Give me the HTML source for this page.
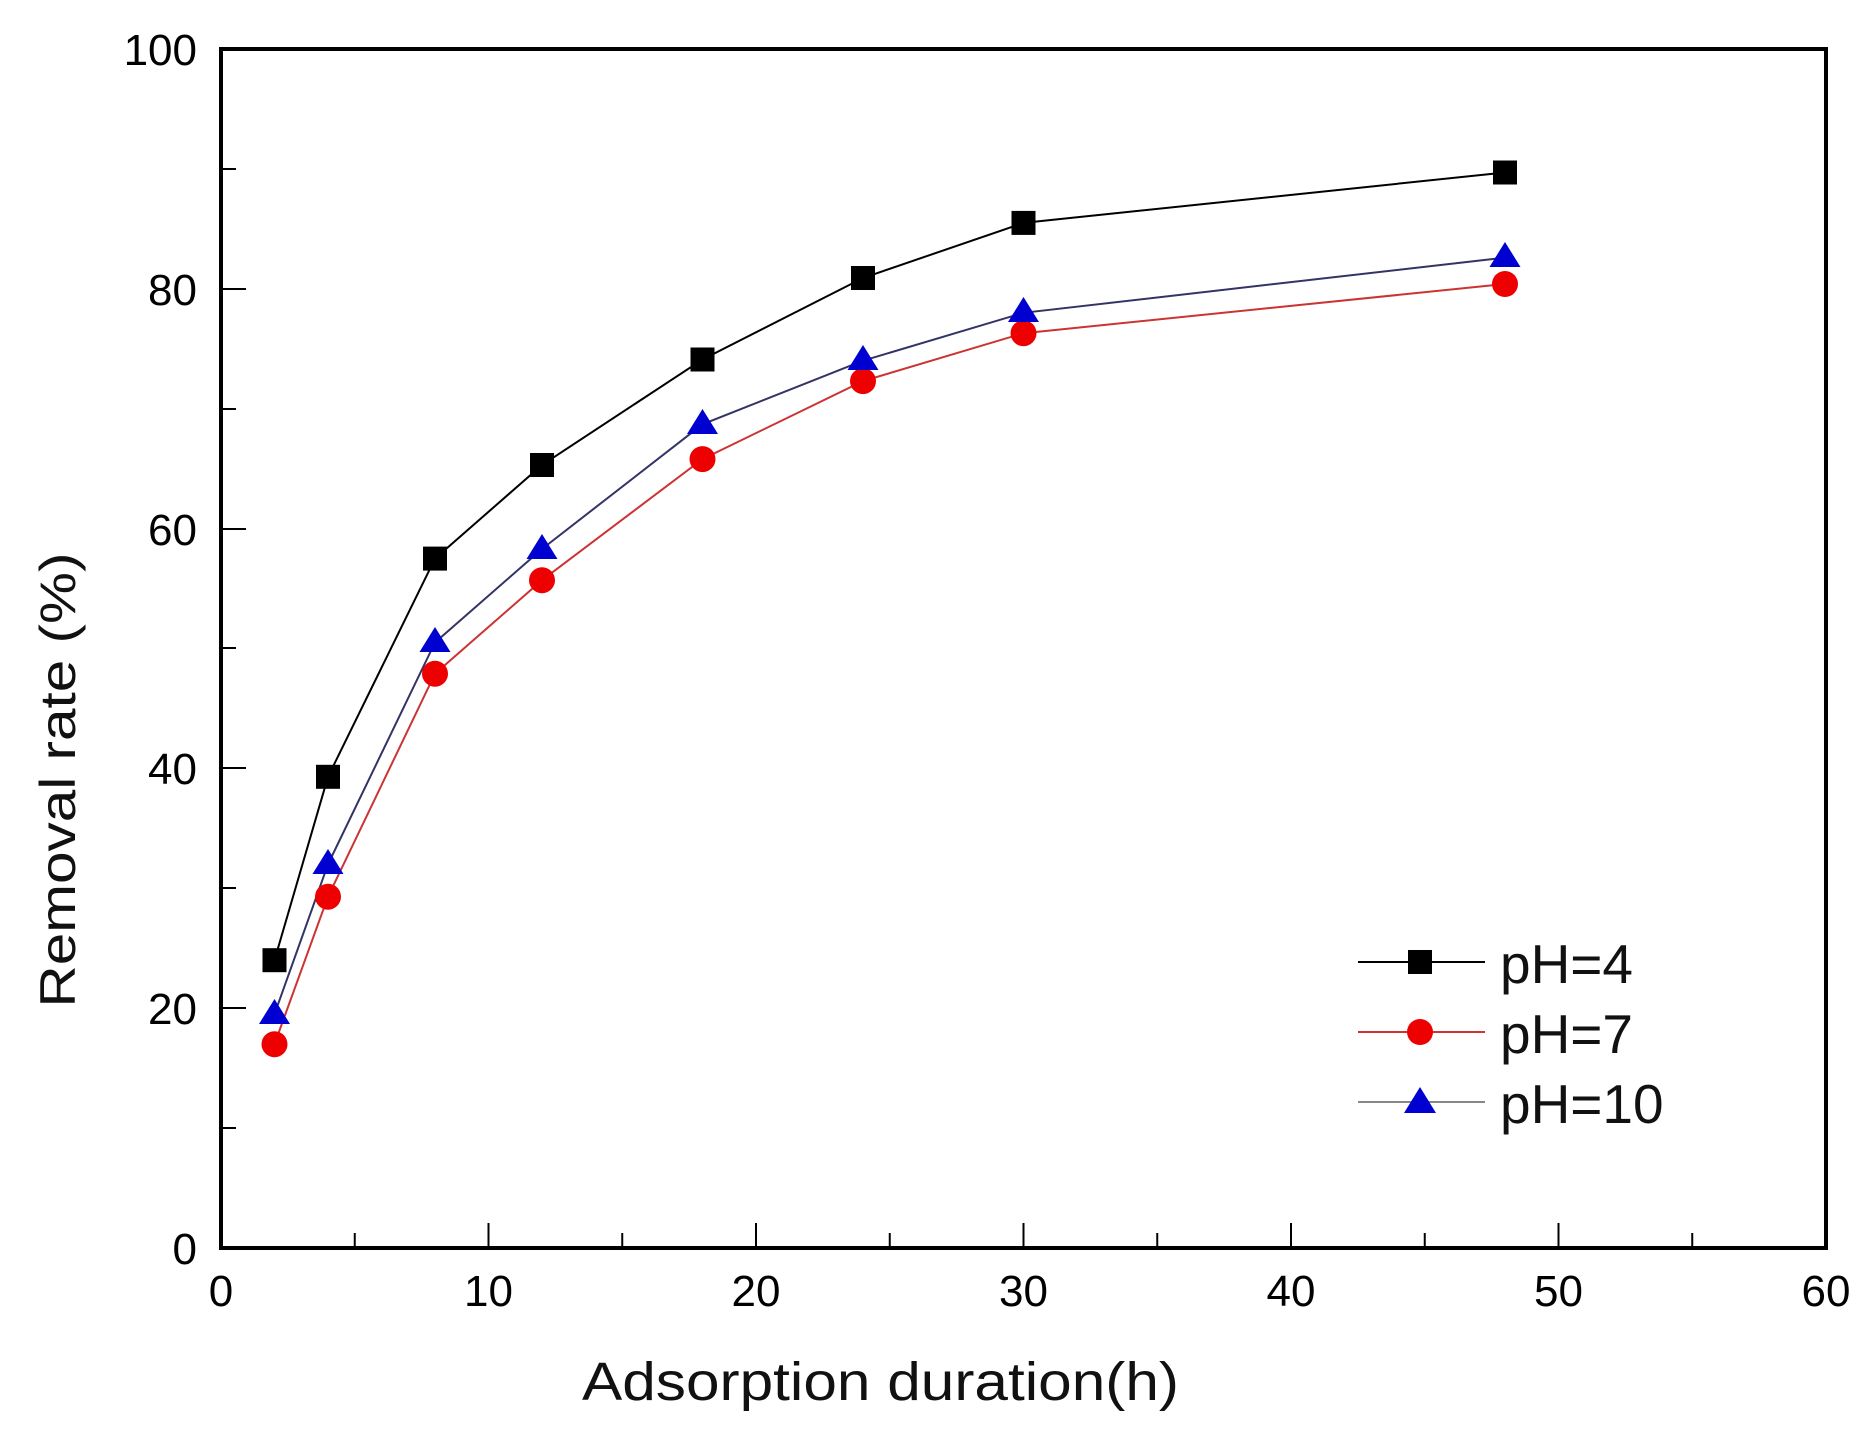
<!DOCTYPE html>
<html><head><style>html,body{margin:0;padding:0;background:#fff}svg{display:block}</style></head>
<body>
<svg width="1868" height="1435" viewBox="0 0 1868 1435" xmlns="http://www.w3.org/2000/svg" font-family="Liberation Sans, sans-serif">
<rect width="1868" height="1435" fill="#fff"/>
<g stroke="#000" stroke-width="2">
<line x1="221" y1="1248" x2="221" y2="1223"/><line x1="354.75" y1="1248" x2="354.75" y2="1233"/>
<line x1="488.5" y1="1248" x2="488.5" y2="1223"/><line x1="622.25" y1="1248" x2="622.25" y2="1233"/>
<line x1="756" y1="1248" x2="756" y2="1223"/><line x1="889.75" y1="1248" x2="889.75" y2="1233"/>
<line x1="1023.5" y1="1248" x2="1023.5" y2="1223"/><line x1="1157.25" y1="1248" x2="1157.25" y2="1233"/>
<line x1="1291" y1="1248" x2="1291" y2="1223"/><line x1="1424.75" y1="1248" x2="1424.75" y2="1233"/>
<line x1="1558.5" y1="1248" x2="1558.5" y2="1223"/><line x1="1692.25" y1="1248" x2="1692.25" y2="1233"/>
<line x1="221" y1="1008" x2="246" y2="1008"/><line x1="221" y1="1128" x2="236" y2="1128"/>
<line x1="221" y1="768" x2="246" y2="768"/><line x1="221" y1="888" x2="236" y2="888"/>
<line x1="221" y1="529" x2="246" y2="529"/><line x1="221" y1="648" x2="236" y2="648"/>
<line x1="221" y1="289" x2="246" y2="289"/><line x1="221" y1="409" x2="236" y2="409"/>
<line x1="221" y1="169" x2="236" y2="169"/>
</g>
<rect x="221" y="49" width="1605" height="1199" fill="none" stroke="#000" stroke-width="4"/>
<g font-size="44" fill="#000" text-anchor="end">
<text x="197" y="1264">0</text><text x="197" y="1024">20</text><text x="197" y="784">40</text>
<text x="197" y="545">60</text><text x="197" y="305">80</text><text x="197" y="65">100</text>
</g>
<g font-size="44" fill="#000" text-anchor="middle">
<text x="221" y="1306">0</text><text x="488.5" y="1306">10</text><text x="756" y="1306">20</text>
<text x="1023.5" y="1306">30</text><text x="1291" y="1306">40</text><text x="1558.5" y="1306">50</text><text x="1826" y="1306">60</text>
</g>
<text x="582" y="1400" font-size="54" fill="#111" textLength="597" lengthAdjust="spacingAndGlyphs">Adsorption duration(h)</text>
<text transform="translate(75,780) rotate(-90)" font-size="50" fill="#111" text-anchor="middle" textLength="455" lengthAdjust="spacingAndGlyphs">Removal rate (%)</text>
<polyline fill="none" stroke="#000" stroke-width="2" points="274.5,960.2 328,776.8 435,558.6 542,465 702.5,359.5 863,278 1023.5,222.9 1505,172.5"/>
<polyline fill="none" stroke="#c33" stroke-width="2" points="274.5,1044.2 328,896.7 435,673.7 542,580.2 702.5,459.1 863,381.1 1023.5,333.2 1505,284"/>
<polyline fill="none" stroke="#336" stroke-width="2" points="274.5,1014.2 328,864.3 435,642.5 542,549 702.5,424.3 863,360.7 1023.5,312.8 1505,257.6"/>
<g fill="#000">
<rect x="262.5" y="948.2" width="24" height="24"/><rect x="316" y="764.8" width="24" height="24"/>
<rect x="423" y="546.6" width="24" height="24"/><rect x="530" y="453" width="24" height="24"/>
<rect x="690.5" y="347.5" width="24" height="24"/><rect x="851" y="266" width="24" height="24"/>
<rect x="1011.5" y="210.9" width="24" height="24"/><rect x="1493" y="160.5" width="24" height="24"/>
</g>
<g fill="#e00">
<circle cx="274.5" cy="1044.2" r="13"/><circle cx="328" cy="896.7" r="13"/><circle cx="435" cy="673.7" r="13"/>
<circle cx="542" cy="580.2" r="13"/><circle cx="702.5" cy="459.1" r="13"/><circle cx="863" cy="381.1" r="13"/>
<circle cx="1023.5" cy="333.2" r="13"/><circle cx="1505" cy="284" r="13"/>
</g>
<g fill="#0000d0">
<polygon points="274.5,999 290,1024 259,1024"/><polygon points="328,849 343.5,874 312.5,874"/>
<polygon points="435,627 450.5,652 419.5,652"/><polygon points="542,534 557.5,559 526.5,559"/>
<polygon points="702.5,409 718,434 687,434"/><polygon points="863,345 878.5,370 847.5,370"/>
<polygon points="1023.5,297 1039,322 1008,322"/><polygon points="1505,242 1520.5,267 1489.5,267"/>
</g>
<line x1="1358" y1="962" x2="1485" y2="962" stroke="#000" stroke-width="2"/>
<rect x="1408" y="950" width="24" height="24" fill="#000"/>
<line x1="1358" y1="1032" x2="1485" y2="1032" stroke="#c33" stroke-width="2"/>
<circle cx="1420" cy="1032" r="13" fill="#e00"/>
<line x1="1358" y1="1102" x2="1485" y2="1102" stroke="#888" stroke-width="2"/>
<polygon points="1420,1087 1436,1113 1404,1113" fill="#0000d0"/>
<g font-size="55" fill="#111">
<text x="1500" y="983">pH=4</text><text x="1500" y="1053">pH=7</text><text x="1500" y="1123">pH=10</text>
</g>
</svg>
</body></html>
